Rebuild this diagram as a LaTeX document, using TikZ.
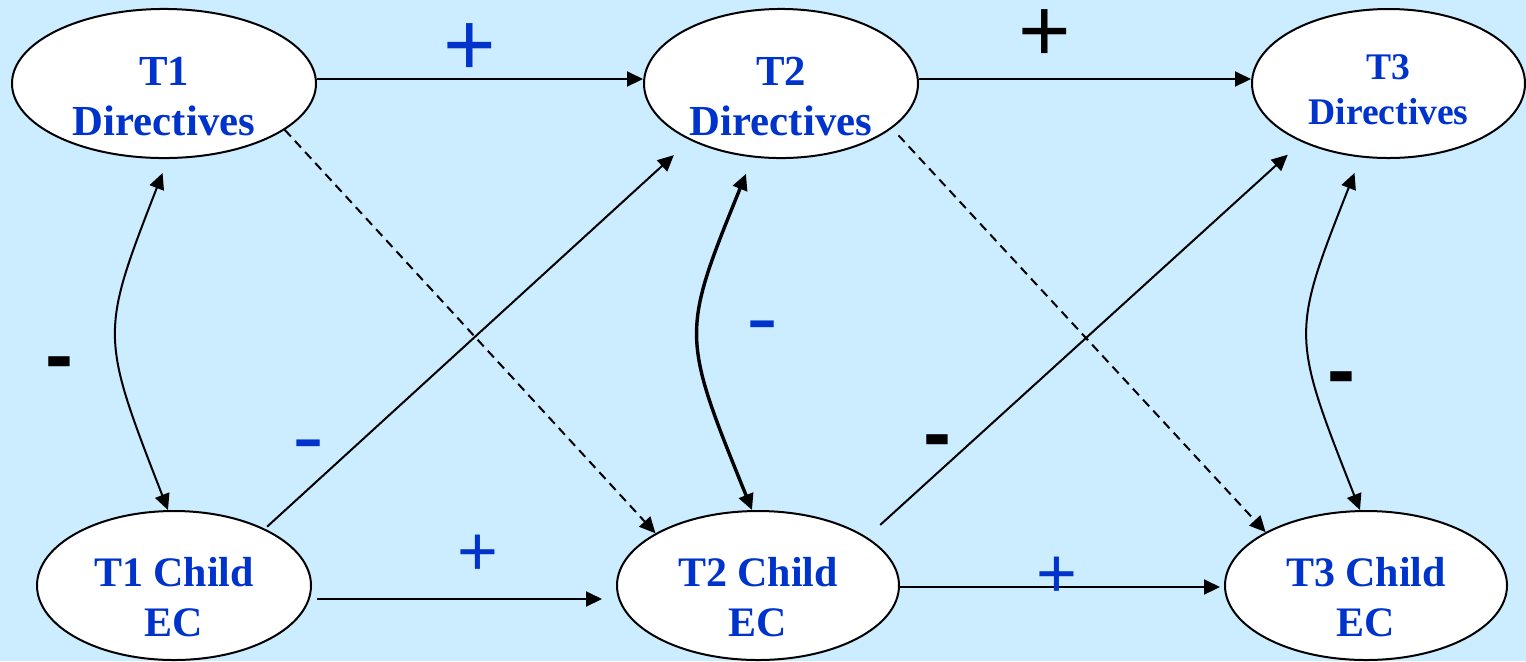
\documentclass[tikz,border=0pt]{standalone}
\usepackage{fontspec}
\setmainfont{Liberation Serif}
\newfontfamily\signfont{Liberation Sans}
\usetikzlibrary{shapes.geometric,arrows.meta}
\definecolor{skyback}{RGB}{204,236,255}
\definecolor{labelblue}{RGB}{0,51,204}

\begin{document}
\begin{tikzpicture}[x=0.5pt,y=-0.5pt,
	wave/.style={draw,ellipse,fill=white,line width=1pt,inner sep=0,align=center,text=labelblue,font=\fontsize{21.4}{25}\selectfont\bfseries},
	link/.style={line width=1pt,-{Triangle[length=8pt,width=7.5pt]}},
	both/.style={line width=1pt,{Triangle[length=8pt,width=7.5pt]}-{Triangle[length=8pt,width=7.5pt]}},
	bigsign/.style={inner sep=0,font=\signfont\fontsize{45}{45}\selectfont},
	smallsign/.style={inner sep=0,text=labelblue,font=\signfont\fontsize{35}{35}\selectfont},
	blackdash/.style={inner sep=0,font=\signfont\bfseries\fontsize{42}{42}\selectfont},
	bluedash/.style={inner sep=0,text=labelblue,font=\fontsize{45}{45}\selectfont}]
	\fill[skyback] (0,0) rectangle (1526,661);
	\useasboundingbox (0,0) rectangle (1526,661);
	\node[wave,text height=52.5pt,minimum width=152pt,minimum height=74.5pt] (d1) at (164,83.5) {T1\\Directives};
	\node[wave,text height=52.5pt,minimum width=137pt,minimum height=74.5pt] (d2) at (781,83.5) {T2\\Directives};
	\node[wave,text height=41.5pt,minimum width=136.5pt,minimum height=74.5pt,font=\fontsize{18.8}{22.5}\selectfont\bfseries] (d3) at (1388.5,83.5) {T3\\Directives};
	\node[wave,text height=51.5pt,minimum width=137pt,minimum height=74.5pt,font=\fontsize{21}{25}\selectfont\bfseries] (c1) at (174,585.5) {T1 Child\\EC};
	\node[wave,text height=51.5pt,minimum width=141pt,minimum height=74.5pt,font=\fontsize{21}{25}\selectfont\bfseries] (c2) at (758,585.5) {T2 Child\\EC};
	\node[wave,text height=51.5pt,minimum width=141pt,minimum height=74.5pt,font=\fontsize{21}{25}\selectfont\bfseries] (c3) at (1366,585.5) {T3 Child\\EC};
	% straight paths
	\draw[link] ([yshift=2.25pt]d1.east) -- ([yshift=2.25pt]d2.west);
	\draw[link] ([yshift=2.25pt]d2.east) -- ([yshift=2.25pt]d3.west);
	\draw[link,shorten <=2.5pt,shorten >=7pt] ([yshift=-6.75pt]c1.east) -- ([yshift=-6.75pt]c2.west);
	\draw[link,shorten >=2pt] ([yshift=-0.75pt]c2.east) -- ([yshift=-0.75pt]c3.west);
	\draw[link,shorten <=1.5pt,shorten >=11pt] (c1.32.5) -- (d2.212.6);
	\draw[link,shorten <=9pt,shorten >=9.4pt] (c2.24.7) -- (d3.214.9);
	\draw[link,dash pattern=on 4.5pt off 3pt] (d1.-21.3) -- (c2.153.7);
	\draw[link,dash pattern=on 4.5pt off 3pt,shorten <=4.8pt] (d2.-22.9) -- (c3.152.5);
	% same time point
	\draw[both,shorten <=7.5pt] ([xshift=2pt]d1.south) .. controls (100,334) and (100,335) .. ([xshift=-3pt]c1.north);
	\draw[both,line width=1.7pt,shorten <=8pt] ([xshift=-14.5pt]d2.south) .. controls (681,334) and (681,335) .. ([xshift=-3pt]c2.north);
	\draw[both,shorten <=7.5pt] ([xshift=-14.25pt]d3.south) .. controls (1291,334) and (1291,335) .. ([xshift=-3pt]c3.north);
	% signs
	\node[bigsign,text=labelblue] (p12) at (470,50) {+};
	\node[bigsign] (p23) at (1045,36) {+};
	\node[smallsign] (q12) at (478,555) {+};
	\node[smallsign] (q23) at (1057,577) {+};
	\node[blackdash] (n11) at (59.5,370) {-};
	\node[blackdash] (n23) at (937,448) {-};
	\node[blackdash] (n33) at (1341,385) {-};
	\node[bluedash] (n12) at (308,452) {-};
	\node[bluedash] (n22) at (762,333) {-};
\end{tikzpicture}
\end{document}
